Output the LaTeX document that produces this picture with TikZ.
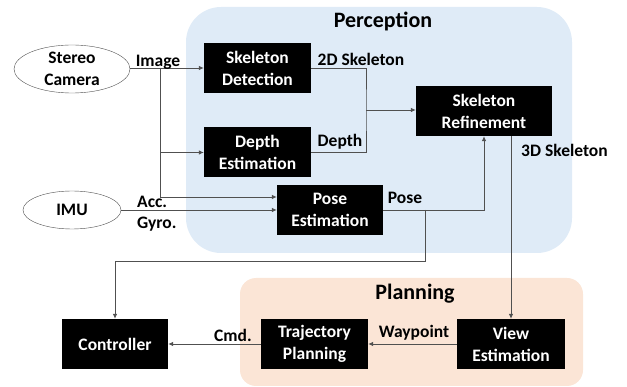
\documentclass[tikz,border=0pt]{standalone}
\usepackage{fontspec}
\setmainfont{Carlito}
\usetikzlibrary{shapes.geometric,arrows.meta}
\definecolor{percbg}{HTML}{DFEBF7}
\definecolor{planbg}{HTML}{FBE5D6}
\definecolor{wire}{HTML}{505050}
\tikzset{
  blk/.style={fill=black, text=white, align=center, minimum width=107pt, minimum height=50pt},
  src/.style={ellipse, draw=wire, align=center},
  lbl/.style={text=black},
  wr/.style={draw=wire, line width=0.8pt},
  arr/.style={wr, -{Latex[length=5pt,width=4.5pt]}}
}
\begin{document}
\begin{tikzpicture}[x=1pt, y=1pt, font=\fontsize{17.5}{22}\selectfont\bfseries]
    \tikzstyle{every node}+=[inner sep=0pt]
    \useasboundingbox (0,0) rectangle (627,-387);
    % backgrounds
    \fill [percbg, rounded corners=35pt] (186,-7) rectangle (572,-253);
    \fill [planbg, rounded corners=16pt] (240,-278) rectangle (583,-386);
    \node (perc) at (383,-21) {\fontsize{22}{26}\selectfont Perception};
    \node (plan) at (415,-294) {\fontsize{22}{26}\selectfont Planning};
    % sensors
    \node [src, minimum width=116pt, minimum height=48pt] (cam) at (72,-69) {Stereo\\Camera};
    \node [src, minimum width=98pt, minimum height=38pt] (imu) at (72,-210) {IMU};
    % blocks
    \node [blk] (det) at (257.5,-68) {Skeleton\\Detection};
    \node [blk] (dep) at (257.5,-152.5) {Depth\\Estimation};
    \node [blk, minimum width=106pt] (pose) at (330,-210) {Pose\\Estimation};
    \node [blk, minimum width=136pt] (ref) at (484,-111) {Skeleton\\Refinement};
    \node [blk, minimum width=106pt] (ctl) at (115,-344) {Controller};
    \node [blk] (traj) at (314.5,-344) {Trajectory\\Planning};
    \node [blk, minimum width=108pt] (view) at (511,-344) {View\\Estimation};
    % turning points
    \coordinate (br) at (160,-68);
    \coordinate (mx) at (366,-110);
    \coordinate (pt) at (425,-210);
    \coordinate (pd) at (425,-261);
    % connectors
    \draw [arr] (cam.east |- det.west) -- (det.west);
    \draw [arr] (br) |- (dep.west);
    \draw [arr] (br) |- ([yshift=13pt]pose.west);
    \draw [arr] (imu.east) -- (pose.west);
    \draw [wr] (det.east) -| (mx) |- (dep.east);
    \draw [arr] (mx) -- (mx -| ref.west);
    \draw [arr] (pose.east) -| (ref.south);
    \draw [arr] (pt) -- (pd) -| (ctl.north);
    \draw [arr] (ref.south -| view.north) -- (view.north);
    \draw [arr] (view.west) -- (traj.east);
    \draw [arr] (traj.west) -- (ctl.east);
    % labels
    \node [lbl] (limg) at (158,-62) {Image};
    \node [lbl] (l2d) at (361,-59) {2D Skeleton};
    \node [lbl] (ldep) at (340,-142) {Depth};
    \node [lbl] (l3d) at (564.5,-150) {3D Skeleton};
    \node [lbl] (lpose) at (405,-198) {Pose};
    \node [lbl, anchor=west] (lacc) at (137,-202) {Acc.};
    \node [lbl, anchor=west] (lgyr) at (137,-224) {Gyro.};
    \node [lbl] (lway) at (414,-333) {Waypoint};
    \node [lbl] (lcmd) at (233,-335) {Cmd.};
\end{tikzpicture}
\end{document}
